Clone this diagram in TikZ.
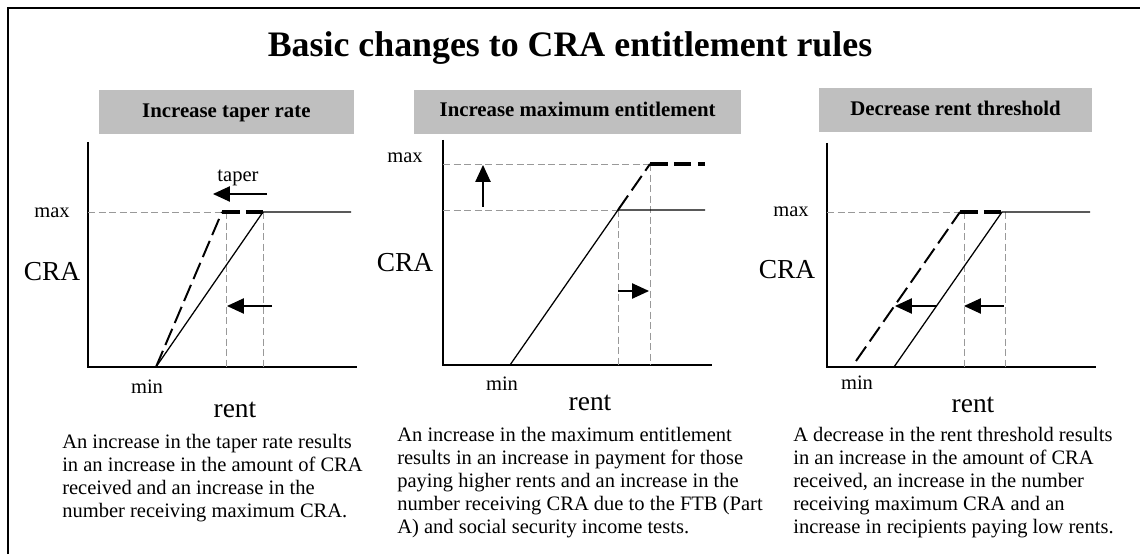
\documentclass[tikz,border=0pt]{standalone}
\usepackage{fontspec}
\setmainfont{Liberation Serif}
\usetikzlibrary{arrows.meta}

\begin{document}
\begin{tikzpicture}[
		axis/.style={line width=1.4pt},
		rule/.style={line width=0.9pt},
		raised/.style={line width=1.4pt, dash pattern=on 12.5pt off 4.5pt},
		raisedcap/.style={line width=2.2pt, dash pattern=on 12.5pt off 4.5pt},
		guide/.style={black!40, line width=0.7pt, dash pattern=on 5pt off 2.5pt},
		move/.style={line width=0.9pt, -{Triangle[length=0.42cm,width=0.38cm]}},
		hdr/.style={fill=black!25, minimum height=1.1cm, text height=0.66em, text depth=0pt, font=\fontsize{14.8}{17}\selectfont\bfseries},
		lbl/.style={font=\fontsize{14.6}{16}\selectfont},
		big/.style={font=\fontsize{19.5}{22}\selectfont},
		note/.style={anchor=north west, inner sep=0pt, align=left, font=\fontsize{14.6}{16.4}\selectfont}]
		\useasboundingbox (0,0) rectangle (28.5,13.85);
		\draw[line width=1.4pt] (0.19,0) -- (0.19,13.66) -- (28.5,13.66);
		
		\node[anchor=base, font=\fontsize{25.5}{30}\selectfont\bfseries] (title) at (14.25,12.43) {Basic changes to CRA entitlement rules};
		
		\node[hdr, minimum width=6.375cm] (taper) at (5.66,11.04) {Increase taper rate};
		\node[hdr, minimum width=8.175cm] (maxent) at (14.44,11.05) {Increase maximum entitlement};
		\node[hdr, minimum width=6.825cm] (thresh) at (23.89,11.09) {Decrease rent threshold};
		
		% taper rate
		\draw[axis] (2.2,10.3) -- (2.2,4.675) -- (8.925,4.675);
		\draw[guide] (2.2,8.55) -- (5.55,8.55);
		\draw[guide] (5.65,8.55) -- (5.65,4.675);
		\draw[guide] (6.575,8.55) -- (6.575,4.675);
		\draw[rule] (3.9,4.675) -- (6.575,8.55) -- (8.775,8.55);
		\draw[raised] (3.9,4.675) -- (5.55,8.55);
		\draw[raisedcap] (5.55,8.55) -- (6.575,8.55);
		\draw[move] (6.675,9.0) -- (5.325,9.0);
		\draw[move] (6.8,6.2) -- (5.675,6.2);
		\node[lbl] (taperlbl) at (5.95,9.4) {taper};
		\node[lbl] (maxA) at (1.3,8.53) {max};
		\node[big] (craA) at (1.3,7.05) {CRA};
		\node[lbl] (minA) at (3.675,4.18) {min};
		\node[big] (rentA) at (5.875,3.6) {rent};
		\node[note] (noteA) at (1.55,3.01) {An increase in the taper rate results\\in an increase in the amount of CRA\\received and an increase in the\\number receiving maximum CRA.};
		
		% maximum entitlement
		\draw[axis] (11.075,10.35) -- (11.075,4.725) -- (17.8,4.725);
		\draw[guide] (11.075,9.75) -- (16.25,9.75);
		\draw[guide] (11.075,8.6) -- (15.45,8.6);
		\draw[guide] (15.45,8.6) -- (15.45,4.725);
		\draw[guide] (16.25,9.75) -- (16.25,4.725);
		\draw[rule] (12.75,4.725) -- (15.45,8.6) -- (17.625,8.6);
		\draw[raised] (15.45,8.6) -- (16.25,9.75);
		\draw[raisedcap] (16.25,9.75) -- (17.625,9.75);
		\draw[move] (12.075,8.675) -- (12.075,9.725);
		\draw[move] (15.45,6.575) -- (16.225,6.575);
		\node[lbl] (maxB) at (10.125,9.9) {max};
		\node[big] (craB) at (10.125,7.275) {CRA};
		\node[lbl] (minB) at (12.55,4.25) {min};
		\node[big] (rentB) at (14.75,3.775) {rent};
		\node[note] (noteB) at (9.925,3.185) {An increase in the maximum entitlement\\results in an increase in payment for those\\paying higher rents and an increase in the\\number receiving CRA due to the FTB (Part\\A) and social security income tests.};
		
		% rent threshold
		\draw[axis] (20.675,10.275) -- (20.675,4.675) -- (27.4,4.675);
		\draw[guide] (20.675,8.55) -- (24.0,8.55);
		\draw[guide] (24.1,8.55) -- (24.1,4.675);
		\draw[guide] (25.125,8.55) -- (25.125,4.675);
		\draw[rule] (22.35,4.675) -- (25.05,8.55) -- (27.25,8.55);
		\draw[raised] (21.4,4.825) -- (24.0,8.55);
		\draw[raisedcap] (24.0,8.55) -- (25.05,8.55);
		\draw[move] (23.425,6.2) -- (22.375,6.2);
		\draw[move] (25.1,6.2) -- (24.1,6.2);
		\node[lbl] (maxC) at (19.775,8.55) {max};
		\node[big] (craC) at (19.675,7.1) {CRA};
		\node[lbl] (minC) at (21.425,4.28) {min};
		\node[big] (rentC) at (24.325,3.725) {rent};
		\node[note] (noteC) at (19.825,3.185) {A decrease in the rent threshold results\\in an increase in the amount of CRA\\received, an increase in the number\\receiving maximum CRA and an\\increase in recipients paying low rents.};

	\end{tikzpicture}
\end{document}
